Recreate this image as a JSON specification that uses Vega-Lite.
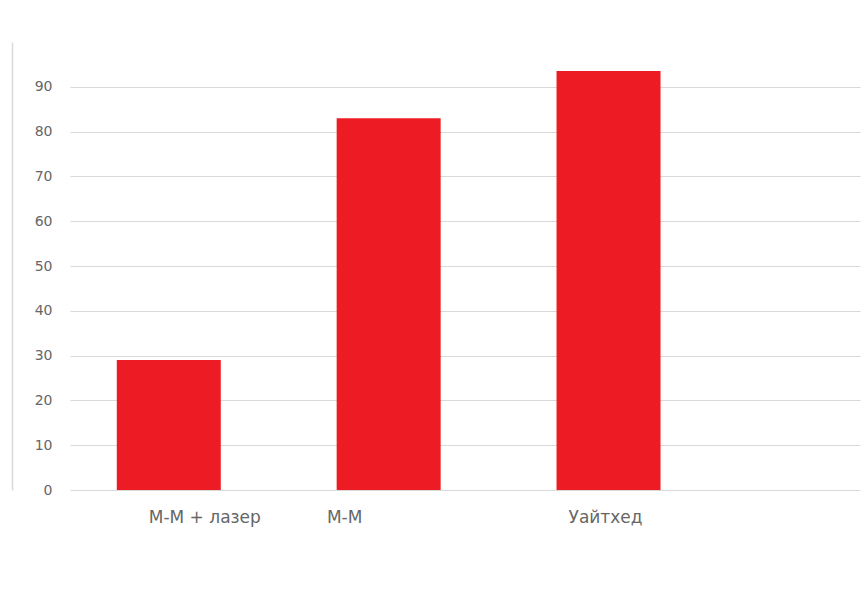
{
  "$schema": "https://vega.github.io/schema/vega-lite/v6.json",
  "autosize": "none",
  "width": 790,
  "height": 448,
  "padding": {"left": 70, "top": 42, "right": 1, "bottom": 100},
  "background": "white",
  "config": {"view": {"stroke": null}},
  "data": {"values": [
    {"group": "М-М + лазер", "value": 29},
    {"group": "М-М", "value": 83},
    {"group": "Уайтхед", "value": 93.5}
  ]},
  "encoding": {
    "x": {
      "field": "group", "type": "nominal", "sort": null,
      "scale": {"paddingInner": 0.527, "paddingOuter": 0.56, "align": 0.19},
      "axis": {
        "title": null, "domain": false, "ticks": false, "grid": false,
        "labelAngle": 0, "labelFont": "DejaVu Sans", "labelFontSize": 17,
        "labelColor": "#666666", "labelPadding": 19,
        "labelOffset": {
          "condition": [
            {"test": "datum.value === 'М-М + лазер'", "value": 36},
            {"test": "datum.value === 'М-М'", "value": -44}
          ],
          "value": -3
        }
      }
    }
  },
  "layer": [
    {
      "mark": {"type": "bar", "color": "#ED1C24"},
      "encoding": {
        "y": {
          "field": "value", "type": "quantitative",
          "scale": {"domain": [0, 100], "nice": false},
          "axis": {
            "title": null, "domain": false, "ticks": false,
            "values": [0, 10, 20, 30, 40, 50, 60, 70, 80, 90],
            "gridColor": "#d9d9d9", "gridWidth": 1,
            "labelFont": "DejaVu Sans", "labelFontSize": 14, "labelColor": "#666666",
            "labelPadding": 18
          }
        }
      }
    },
    {
      "mark": {"type": "bar", "opacity": 0},
      "encoding": {
        "y": {
          "field": "value", "type": "quantitative",
          "scale": {"domain": [0, 100], "nice": false},
          "axis": {
            "orient": "left", "title": null, "labels": false, "ticks": false,
            "grid": false, "domain": true, "domainColor": "#d9d9d9",
            "domainWidth": 1.5, "offset": 58
          }
        }
      }
    }
  ],
  "resolve": {"scale": {"y": "independent"}, "axis": {"y": "independent"}}
}
